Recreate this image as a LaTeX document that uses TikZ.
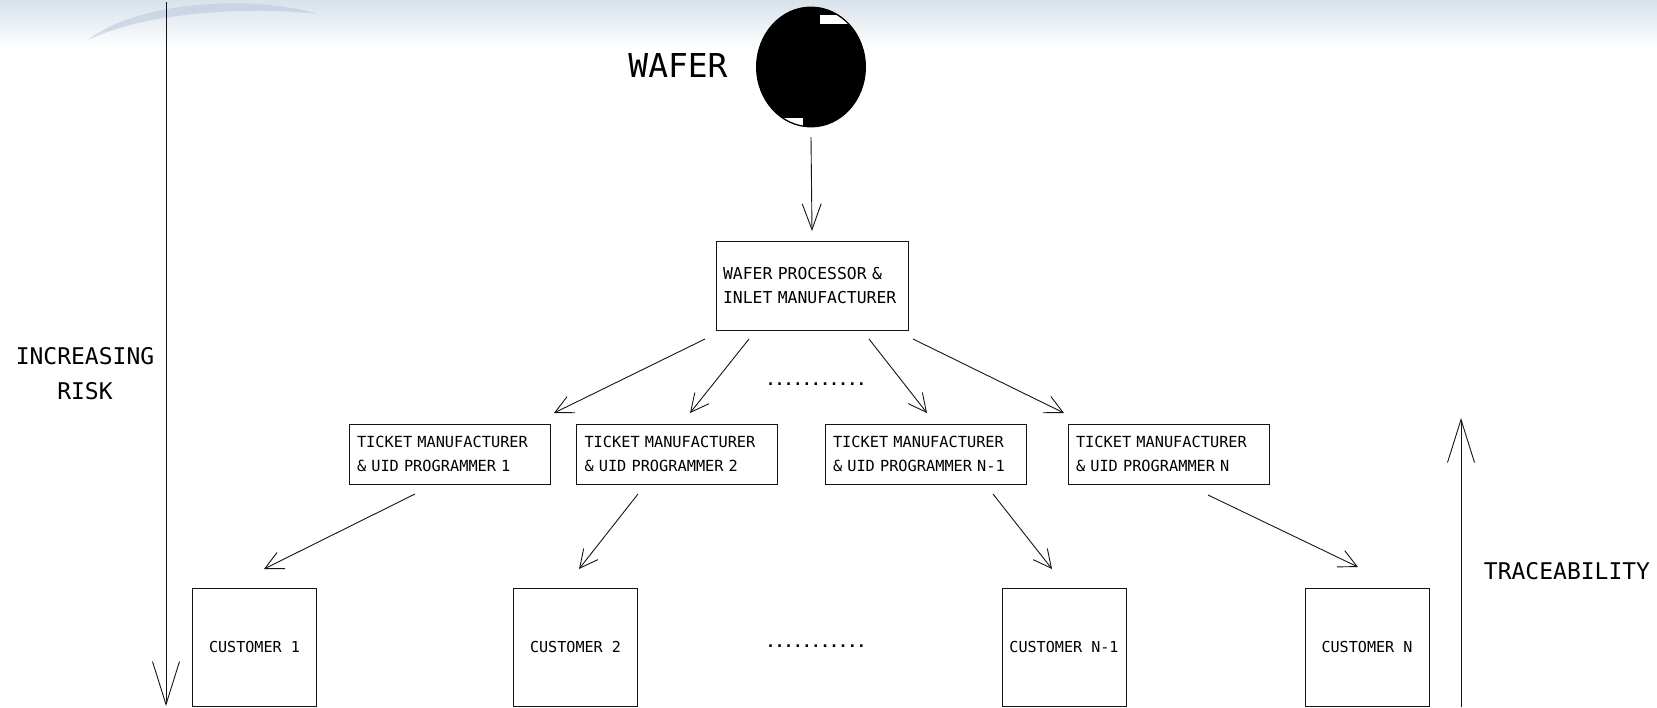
\documentclass[tikz,border=0pt]{standalone}
\usepackage{fontspec}
\newfontfamily\cadfont{DejaVu Sans Mono}
\usetikzlibrary{arrows.meta,calc,shapes.geometric}
\definecolor{hdr}{RGB}{216,226,234}
\definecolor{swoosh}{RGB}{186,198,222}
\definecolor{ink}{RGB}{20,20,20}
\begin{document}
\begin{tikzpicture}[x=1pt,y=-1pt,line width=1pt,draw=ink,
  box/.style={draw=ink,line width=1pt,inner sep=0pt,outer sep=0pt},
  wbox/.style={box,minimum width=192pt,minimum height=89pt,text width=178pt,align=left,
    font=\cadfont\fontsize{16.4}{24}\selectfont},
  tbox/.style={box,minimum width=201pt,minimum height=60pt,text width=185pt,align=left,
    font=\cadfont\fontsize{15.3}{24}\selectfont},
  cbox/.style={box,minimum width=124pt,minimum height=118pt,
    font=\cadfont\fontsize{15.1}{18}\selectfont},
  lbl/.style={inner sep=0pt,font=\cadfont\fontsize{23}{35}\selectfont,align=center},
  dots/.style={inner sep=0pt,anchor=base,font=\cadfont\bfseries\fontsize{15.1}{18}\selectfont},
  arr/.style={-{Straight Barb[length=18pt,width=18pt]},line width=0.9pt,draw=ink},
  warr/.style={-{Straight Barb[length=26pt,width=19pt]},line width=0.9pt,draw=ink},
  bigarr/.style={-{Straight Barb[length=43pt,width=27pt]},line width=0.9pt,draw=ink}
]
\useasboundingbox (0,0) rectangle (1657,707);
% header band
\shade[top color=hdr,bottom color=white] (0,0) rectangle (1657,48);
\fill[swoosh,opacity=0.55] (88,40) .. controls (135,2) and (250,-6) .. (318,14)
   .. controls (250,6) and (145,12) .. (88,40) -- cycle;
% wafer
\node[ellipse,fill=black,draw=none,minimum width=109pt,minimum height=120pt,inner sep=0pt,outer sep=0pt] (wafer) at (811,67) {};
\begin{scope}
  \clip (811,67) ellipse [x radius=54.5,y radius=60];
  \fill[white] (820,15) rectangle (880,24);
  \fill[white] (760,118) rectangle (803,140);
\end{scope}
\draw[black,line width=1.3pt] (811,67) ellipse [x radius=54.3,y radius=59.8];
\node[inner sep=0pt,font=\cadfont\fontsize{32.9}{36}\selectfont] (wlabel) at (678,66) {WAFER};
% boxes
\node[wbox] (wpim) at (812,285.5) {WAFER PROCESSOR \&\\INLET MANUFACTURER};
\node[tbox] (t1) at (449.5,454) {TICKET MANUFACTURER\\\& UID PROGRAMMER 1};
\node[tbox] (t2) at (677,454) {TICKET MANUFACTURER\\\& UID PROGRAMMER 2};
\node[tbox] (t3) at (925.5,454) {TICKET MANUFACTURER\\\& UID PROGRAMMER N-1};
\node[tbox] (t4) at (1168.5,454) {TICKET MANUFACTURER\\\& UID PROGRAMMER N};
\node[cbox] (c1) at (254.5,647) {CUSTOMER 1};
\node[cbox] (c2) at (575.5,647) {CUSTOMER 2};
\node[cbox] (c3) at (1064,647) {CUSTOMER N-1};
\node[cbox] (c4) at (1367,647) {CUSTOMER N};
\node[dots] (dtop) at (816,385) {...........};
\node[dots] (dbot) at (816,647) {...........};
% connectors
\draw[warr] ($(wafer.south)+(0,10)$) -- ($(wpim.north)+(0,-10)$);
\draw[arr] ($(wpim.south)+(-107,9)$) -- ($(t1.north)+(104.5,-11)$);
\draw[arr] ($(wpim.south)+(-63,9)$) -- ($(t2.north)+(13,-11)$);
\draw[arr] ($(wpim.south)+(57,9)$) -- ($(t3.north)+(1.5,-11)$);
\draw[arr] ($(wpim.south)+(101,9)$) -- ($(t4.north)+(-104.5,-11)$);
\draw[arr] ($(t1.south)+(-34.5,10)$) -- ($(c1.north)+(9.5,-19)$);
\draw[arr] ($(t2.south)+(-39,10)$) -- ($(c2.north)+(3.5,-19)$);
\draw[arr] ($(t3.south)+(67.5,10)$) -- ($(c3.north)+(-12,-19)$);
\draw[arr] ($(t4.south)+(39.5,11)$) -- ($(c4.north)+(-9,-21)$);
% side arrows
\coordinate (rtop) at (166,2);
\coordinate (rbot) at (166,706);
\draw[bigarr] (rtop) -- (rbot);
\node[lbl] (risk) at (85,373.5) {INCREASING\\RISK};
\coordinate (tbot) at (1461,707);
\coordinate (ttop) at (1461,418);
\draw[bigarr] (tbot) -- (ttop);
\node[lbl] (trace) at (1567,571) {TRACEABILITY};
\end{tikzpicture}
\end{document}
